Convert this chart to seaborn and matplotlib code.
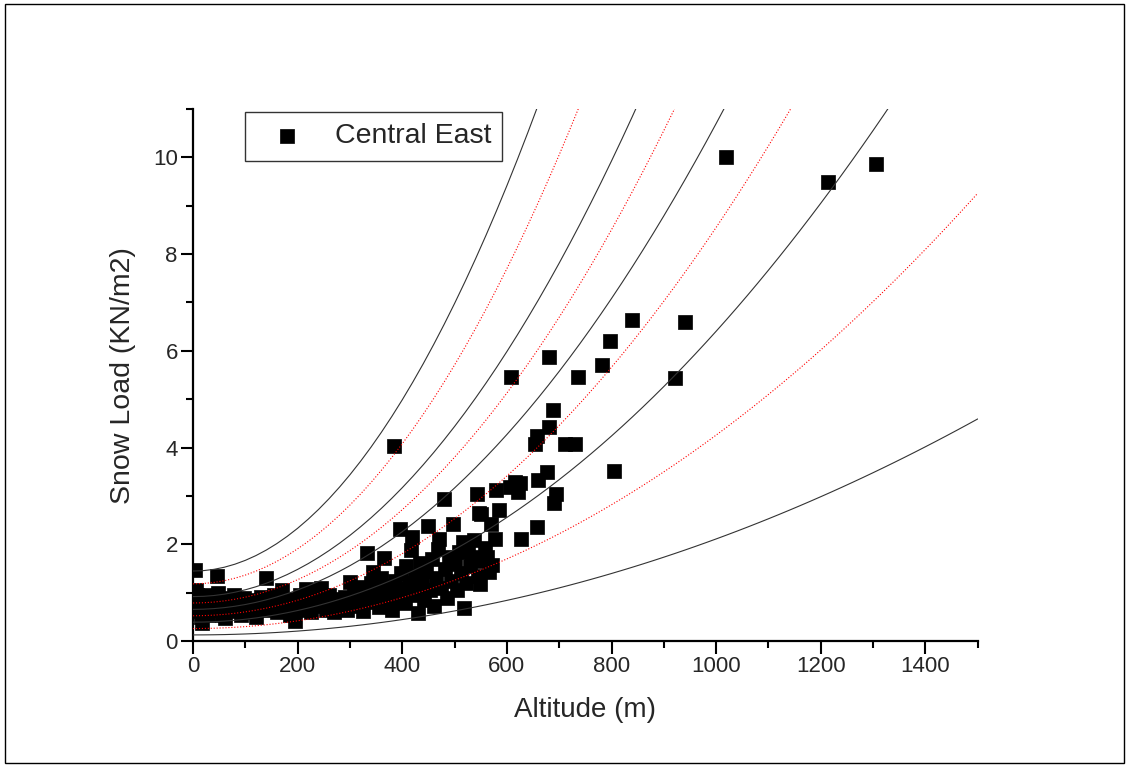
# Snow load vs altitude, Central East region
import numpy as np
import pandas as pd
import matplotlib
matplotlib.use("Agg")
import matplotlib.pyplot as plt
import seaborn as sns
from matplotlib import font_manager
from matplotlib.ticker import MultipleLocator
from matplotlib.patches import Rectangle

# Observed stations (altitude in m, snow load in KN/m2)
altitude = [3, 5, 8, 10, 12, 15, 18, 22, 25, 28, 32, 38, 42, 45, 48, 52, 55, 58, 62,
            68, 72, 78, 82, 88, 92, 98, 105, 110, 115, 120, 125, 130, 135, 140, 145, 150,
            155, 160, 165, 170, 175, 180, 185, 190, 195, 200, 205, 210, 215, 220, 225, 230,
            235, 240, 245, 250, 255, 260, 265, 270, 275, 280, 285, 290, 295, 300,
            305, 308, 312, 316, 320, 325, 330, 333, 336, 340, 344, 348, 352, 356, 360, 365,
            368, 372, 376, 380, 384, 386, 390, 395, 398, 402, 405, 408, 412, 416, 418, 420,
            424, 428, 430, 434, 438, 442, 446, 450, 452, 456, 460, 464, 468, 470,
            474, 479, 482, 486, 490, 494, 497, 500, 504, 508, 512, 516, 518, 522, 526, 530,
            534, 538, 543, 545, 547, 548, 551, 555, 558, 562, 566, 569, 571, 578, 580, 585,
            606, 607, 615, 621, 625, 627, 653, 658, 658, 660, 676, 680, 680, 689, 690, 693,
            711, 730, 735, 781, 797, 804, 840, 921, 940, 1019, 1213, 1306]
snow_load = [1.47, 1.05, 0.95, 0.75, 0.62, 0.50, 0.38, 0.85, 0.70, 0.55, 0.95, 0.80, 0.65, 1.35, 1.00, 0.90, 0.55, 0.75, 0.48,
             0.85, 0.70, 0.95, 0.62, 0.80, 0.55, 0.90, 0.72, 0.85, 0.60, 0.50, 0.78, 0.92, 0.65, 1.30, 0.85, 0.70,
             0.95, 0.60, 0.80, 1.05, 0.72, 0.88, 0.55, 0.68, 0.42, 0.85, 0.95, 0.65, 1.08, 0.78, 0.60, 0.90,
             1.05, 0.72, 1.10, 0.82, 0.65, 0.95, 0.75, 0.60, 0.88, 0.70, 0.80, 0.92, 0.65, 1.22,
             0.85, 1.00, 0.72, 1.12, 0.90, 0.62, 1.05, 1.83, 0.80, 1.20, 1.43, 0.95, 1.10, 0.70, 1.30, 1.71,
             0.88, 1.15, 1.00, 0.65, 4.03, 1.25, 0.90, 2.31, 1.40, 1.08, 0.78, 1.55, 1.20, 1.88, 2.16, 0.95,
             1.35, 1.10, 0.58, 1.62, 1.25, 0.85, 1.45, 2.38, 1.05, 1.70, 0.72, 1.30, 1.90, 2.12,
             1.10, 2.93, 1.50, 0.90, 1.75, 1.25, 2.43, 1.60, 1.05, 1.85, 1.40, 2.05, 0.68, 1.20, 1.95, 1.55,
             1.75, 2.10, 3.04, 1.35, 2.64, 1.19, 2.62, 1.65, 1.92, 1.74, 1.43, 2.42, 1.57, 2.12, 3.13, 2.71,
             3.19, 5.45, 3.29, 3.09, 3.26, 2.12, 4.07, 4.24, 2.36, 3.33, 3.50, 4.43, 5.87, 4.77, 2.85, 3.04,
             4.07, 4.08, 5.46, 5.70, 6.20, 3.51, 6.63, 5.43, 6.60, 10.00, 9.48, 9.86]

# Zone numbers of the reference curves: sk = (0.264 Z - 0.002) [1 + (A/256)^2]
zone_values = [5.5, 4.5, 3.5, 3.0, 2.5, 2.0, 1.5, 1.0, 0.5]
curve_altitude = np.arange(0, 1501, 20)

df = pd.DataFrame({'Altitude': altitude, 'Load': snow_load})

sns.set_theme(style="ticks")
plt.rcParams['font.family'] = ['Liberation Sans', 'DejaVu Sans']

# narrow font for tick labels if there is one
installed = {f.name for f in font_manager.fontManager.ttflist}
if 'Liberation Sans Narrow' in installed:
    tick_family, tick_size = 'Liberation Sans Narrow', 18
else:
    tick_family, tick_size = 'Liberation Sans', 16

fig = plt.figure(figsize=(11.29, 7.67), dpi=100)
ax = fig.add_axes([0.171, 0.164, 0.695, 0.694])

sns.scatterplot(data=df, x='Altitude', y='Load', marker='s', s=110, color='black',
                edgecolor='black', linewidth=0.5, label='Central East', zorder=2, ax=ax)

for i, z in enumerate(zone_values):
    load = (0.264 * z - 0.002) * (1 + (curve_altitude / 256.0) ** 2)
    if i % 2 == 0:
        sns.lineplot(x=curve_altitude, y=load, color='#333333', linewidth=0.8,
                     legend=False, zorder=3, ax=ax, sort=False, estimator=None)
    else:
        sns.lineplot(x=curve_altitude, y=load, color='red', linestyle=':', linewidth=0.8,
                     legend=False, zorder=3, ax=ax, sort=False, estimator=None)

ax.set_xlim(0, 1500)
ax.set_ylim(0, 11)
ax.xaxis.set_major_locator(MultipleLocator(200))
ax.xaxis.set_minor_locator(MultipleLocator(100))
ax.yaxis.set_major_locator(MultipleLocator(2))
ax.yaxis.set_minor_locator(MultipleLocator(1))

for side in ['top', 'right']:
    ax.spines[side].set_visible(False)
for side in ['left', 'bottom']:
    ax.spines[side].set_linewidth(1.6)
    ax.spines[side].set_color('black')

ax.tick_params(which='major', direction='out', length=9, width=1.5, labelsize=tick_size,
               color='black', pad=2)
ax.tick_params(which='minor', direction='out', length=5, width=1.5, color='black')
for lab in ax.get_xticklabels() + ax.get_yticklabels():
    lab.set_family(tick_family)

ax.set_xlabel('Altitude (m)', fontsize=20, labelpad=14)
ax.set_ylabel('Snow Load (KN/m2)', fontsize=20.5, labelpad=12)

leg = ax.legend(loc='upper left', bbox_to_anchor=(0.066, 0.994), borderaxespad=0,
                fontsize=20.5, frameon=True, fancybox=False, edgecolor='black',
                handletextpad=0.6, borderpad=0.4, handlelength=2.15, markerscale=0.9)
leg.get_frame().set_linewidth(1.0)

# Outer frame around the whole picture
fig.add_artist(Rectangle((0.004, 0.005), 0.992, 0.99, transform=fig.transFigure,
                         fill=False, edgecolor='black', linewidth=1))

plt.savefig('out.png', dpi=100)
